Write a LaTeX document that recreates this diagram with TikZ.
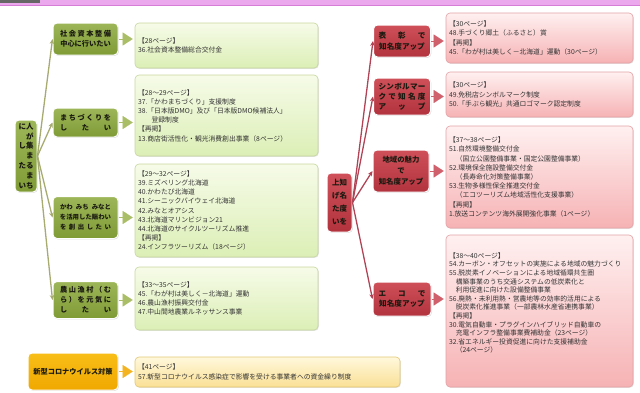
\documentclass[tikz,border=0pt]{standalone}
\usepackage{fontspec}
\setmainfont{Noto Sans CJK JP}
\usetikzlibrary{arrows.meta,shadows}
\definecolor{gtop}{HTML}{9DB658}
\definecolor{gbot}{HTML}{7F9B36}
\definecolor{rtop}{HTML}{D0505A}
\definecolor{rbot}{HTML}{B2323D}
\definecolor{otop}{HTML}{F8BE18}
\definecolor{obot}{HTML}{F0A800}
\definecolor{gline}{HTML}{A6AB70}
\definecolor{rline}{HTML}{B04456}
\definecolor{gtri}{HTML}{A9BE66}
\definecolor{rtri}{HTML}{D0606C}
\definecolor{otri}{HTML}{F4B422}
\definecolor{gctop}{HTML}{F6FBE8}
\definecolor{gcbot}{HTML}{DCEFB6}
\definecolor{gcbd}{HTML}{C6D69E}
\definecolor{rctop}{HTML}{FFF0F0}
\definecolor{rcbot}{HTML}{F6B2B4}
\definecolor{rcbd}{HTML}{E3A2A6}
\definecolor{octop}{HTML}{FFF8DC}
\definecolor{ocbot}{HTML}{FAE096}
\definecolor{ocbd}{HTML}{E2C672}
\definecolor{bandpink}{HTML}{ECA8EC}
\definecolor{bandline}{HTML}{D67CD6}
\definecolor{btext}{HTML}{1A1A10}
\newlength{\dlw}
\newcommand{\dl}[1]{\makebox[\dlw]{#1}}
\begin{document}
\begin{tikzpicture}[x=1pt,y=-1pt,
  branchbox/.style={rounded corners=4pt, draw=white, line width=1pt,
    font=\fontsize{7.2}{10}\selectfont\bfseries\color{btext}, align=center, inner sep=1pt,
    drop shadow={opacity=0.3,shadow xshift=0.8pt,shadow yshift=-0.8pt}},
  gbranch/.style={branchbox, top color=gtop, bottom color=gbot, text=btext},
  rbranch/.style={branchbox, top color=rtop, bottom color=rbot, text=btext},
  obranch/.style={branchbox, top color=otop, bottom color=obot, text=btext},
  contentbox/.style={rounded corners=4pt, line width=0.6pt, align=left, inner xsep=3pt, inner ysep=2pt,
    font=\fontsize{6.8}{9.2}\selectfont, text=black!80,
    drop shadow={opacity=0.22,shadow xshift=0.8pt,shadow yshift=-0.8pt}},
  gcontent/.style={contentbox, draw=gcbd, top color=gctop, bottom color=gcbot},
  rcontent/.style={contentbox, draw=rcbd, top color=rctop, bottom color=rcbot},
  ocontent/.style={contentbox, draw=ocbd, top color=octop, bottom color=ocbot},
  glink/.style={draw=gline, line width=1.3pt, -{Stealth[length=5pt,width=4.5pt]}},
  rlink/.style={draw=rline, line width=1.3pt, -{Stealth[length=5pt,width=4.5pt]}},
  tri/.style={line width=0.1pt, -{Triangle[length=10pt,width=13pt]}, shorten >=2pt},
]
\useasboundingbox (0,0) rectangle (640,392);
% top band
\fill[bandpink] (0,0) rectangle (640,5);
\draw[bandline, line width=1pt] (0,5.5) -- (640,5.5);
\fill[black!60] (0,0) rectangle (40,3);

% ---- green side
\node[gbranch, minimum width=22pt, minimum height=72pt, font=\fontsize{7.5}{9.8}\selectfont\bfseries\color{btext}] (gr) at (26,156)
  {に人\\　が\\し集\\　ま\\たる\\　ま\\いち};
\setlength{\dlw}{51pt}
\node[gbranch, minimum width=65pt, minimum height=32pt] (g1) at (85.5,39)
  {\dl{社\hfill 会\hfill 資\hfill 本\hfill 整\hfill 備}\\\dl{中心に行いたい}};
\node[gbranch, minimum width=65pt, minimum height=29pt] (g2) at (85.5,122.5)
  {\dl{ま\hfill ち\hfill づ\hfill く\hfill り\hfill を}\\\dl{し\hfill た\hfill い}};
\node[gbranch, minimum width=65pt, minimum height=42pt, font=\fontsize{6.4}{10}\selectfont\bfseries\color{btext}] (g3) at (85.5,217.5)
  {\dl{かわ\hfill みち\hfill みなと}\\\dl{を活用した賑わい}\\\dl{を\hfill 創\hfill 出\hfill し\hfill た\hfill い}};
\node[gbranch, minimum width=65pt, minimum height=37pt] (g4) at (85.5,300)
  {\dl{農\hfill 山\hfill 漁\hfill 村\hfill （\hfill む}\\\dl{ら\hfill ）\hfill を\hfill 元\hfill 気\hfill に}\\\dl{し\hfill た\hfill い}};
\node[obranch, minimum width=90pt, minimum height=37pt] (o) at (73,371.5) {新型コロナウイルス対策};

\node[gcontent, minimum width=183pt, text width=177pt, minimum height=45pt] (gc1) at (226.5,45.5)
  {【28ページ】\\36.社会資本整備総合交付金};
\node[gcontent, minimum width=183pt, text width=177pt, minimum height=81pt] (gc2) at (226.5,115.5)
  {【28～29ページ】\\37.「かわまちづくり」支援制度\\38.「日本版DMO」及び「日本版DMO候補法人」\\　　登録制度\\【再掲】\\13.商店街活性化・観光消費創出事業（8ページ）};
\node[gcontent, minimum width=183pt, text width=177pt, minimum height=93pt] (gc3) at (226.5,210.5)
  {【29～32ページ】\\39.ミズベリング北海道\\40.かわたび北海道\\41.シーニックバイウェイ北海道\\42.みなとオアシス\\43.北海道マリンビジョン21\\44.北海道のサイクルツーリズム推進\\【再掲】\\24.インフラツーリズム（18ページ）};
\node[gcontent, minimum width=183pt, text width=177pt, minimum height=63pt] (gc4) at (226.5,298.5)
  {【33～35ページ】\\45.「わが村は美しく－北海道」運動\\46.農山漁村振興交付金\\47.中山間地農業ルネッサンス事業};
\node[ocontent, minimum width=265pt, text width=259pt, minimum height=30pt] (oc) at (267.5,372)
  {【41ページ】\\57.新型コロナウイルス感染症で影響を受ける事業者への資金繰り制度};

\draw[glink] (gr.east) -- (g1.west);
\draw[glink] (gr.east) -- (g2.west);
\draw[glink] (gr.east) -- (g3.west);
\draw[glink] (gr.east) -- (g4.west);
\draw[tri, draw=gtri] (g1.east) -- (g1.east -| gc1.west);
\draw[tri, draw=gtri] (g2.east) -- (g2.east -| gc2.west);
\draw[tri, draw=gtri] (g3.east) -- (g3.east -| gc3.west);
\draw[tri, draw=gtri] (g4.east) -- (g4.east -| gc4.west);
\draw[tri, draw=otri] (o.east) -- (o.east -| oc.west);

% ---- red side
\node[rbranch, minimum width=25pt, minimum height=59pt, font=\fontsize{7.5}{13}\selectfont\bfseries\color{btext}] (rr) at (339.5,202.5)
  {上知\\げ名\\た度\\いを};
\setlength{\dlw}{47pt}
\node[rbranch, minimum width=57pt, minimum height=32pt, font=\fontsize{7.6}{10.5}\selectfont\bfseries\color{btext}] (r1) at (402,41)
  {\dl{表\hfill 彰\hfill で}\\\dl{知名度アップ}};
\node[rbranch, minimum width=57pt, minimum height=37pt, font=\fontsize{7.6}{10}\selectfont\bfseries\color{btext}] (r2) at (402,96.5)
  {\dl{シ\hfill ン\hfill ボ\hfill ル\hfill マ\hfill ー}\\\dl{ク\hfill で\hfill 知\hfill 名\hfill 度}\\\dl{ア\hfill ッ\hfill プ}};
\node[rbranch, minimum width=56pt, minimum height=42pt, font=\fontsize{7.4}{11}\selectfont\bfseries\color{btext}] (r3) at (401,171)
  {地域の魅力\\で\\知名度アップ};
\node[rbranch, minimum width=58pt, minimum height=34pt, font=\fontsize{7.6}{10.5}\selectfont\bfseries\color{btext}] (r4) at (402,299)
  {\dl{エ\hfill コ\hfill で}\\\dl{知名度アップ}};

\node[rcontent, minimum width=187pt, text width=181pt, minimum height=50pt] (rc1) at (539.5,38)
  {【30ページ】\\48.手づくり郷土（ふるさと）賞\\【再掲】\\45.「わが村は美しく－北海道」運動（30ページ）};
\node[rcontent, minimum width=187pt, text width=181pt, minimum height=45pt] (rc2) at (539.5,94.5)
  {【30ページ】\\49.免税店シンボルマーク制度\\50.「手ぶら観光」共通ロゴマーク認定制度};
\node[rcontent, minimum width=187pt, text width=181pt, minimum height=102pt] (rc3) at (539.5,177)
  {【37～38ページ】\\51.自然環境整備交付金\\　（国立公園整備事業・国定公園整備事業）\\52.環境保全施設整備交付金\\　（長寿命化対策整備事業）\\53.生物多様性保全推進交付金\\　（エコツーリズム地域活性化支援事業）\\【再掲】\\1.放送コンテンツ海外展開強化事業（1ページ）};
\node[rcontent, minimum width=187pt, text width=181pt, minimum height=152pt, font=\fontsize{6.8}{8.6}\selectfont] (rc4) at (539.5,311)
  {【38～40ページ】\\54.カーボン・オフセットの実施による地域の魅力づくり\\55.脱炭素イノベーションによる地域循環共生圏\\　構築事業のうち交通システムの低炭素化と\\　利用促進に向けた設備整備事業\\56.廃熱・未利用熱・営農地等の効率的活用による\\　脱炭素化推進事業（一部農林水産省連携事業）\\【再掲】\\30.電気自動車・プラグインハイブリッド自動車の\\　充電インフラ整備事業費補助金（23ページ）\\32.省エネルギー投資促進に向けた支援補助金\\　（24ページ）\par\vspace*{16pt}};

\draw[rlink] (rr.east) -- (r1.west);
\draw[rlink] (rr.east) -- (r2.west);
\draw[rlink] (rr.east) -- (r3.west);
\draw[rlink] (rr.east) -- (r4.west);
\draw[tri, draw=rtri] (r1.east) -- (r1.east -| rc1.west);
\draw[tri, draw=rtri] (r2.east) -- (r2.east -| rc2.west);
\draw[tri, draw=rtri] (r3.east) -- (r3.east -| rc3.west);
\draw[tri, draw=rtri] (r4.east) -- (r4.east -| rc4.west);
\end{tikzpicture}
\end{document}
